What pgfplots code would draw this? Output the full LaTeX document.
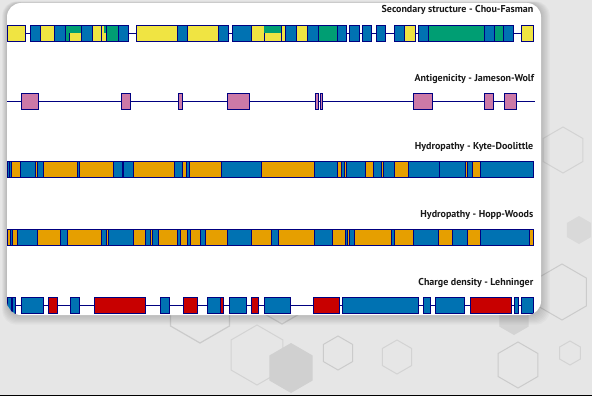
\documentclass[border=0pt]{standalone}
\usepackage{pgfplots}
\pgfplotsset{compat=1.18}
\usepackage{pgfplotstable}
\usepackage{fontspec}
\setmainfont{PT Sans}
\definecolor{cY}{HTML}{F0E442}
\definecolor{cB}{HTML}{0072B2}
\definecolor{cG}{HTML}{009E73}
\definecolor{cO}{HTML}{E69F00}
\definecolor{cR}{HTML}{C80000}
\definecolor{cP}{HTML}{CC79A7}
\definecolor{nv}{HTML}{000080}
\definecolor{bg}{HTML}{E6E6E6}
\definecolor{hexl}{HTML}{CBCBCB}

% columns: x1 x2 (residue span, px) y1 y2 (box top/bottom) s (class)
\pgfplotstableread{
x1 x2 y1 y2 s
7 25.7 25 41.5 sY
30.3 40.3 25 41.5 sB
40.3 54.3 25 41.5 sY
54.3 65.7 25 41.5 sB
65.7 69 25 41.5 sG
69 81.7 25 41.5 sY
69 81.7 25.5 33.25 sGf
81.7 92.3 25 41.5 sB
92.3 101.7 25 41.5 sY
101.7 106.7 25 41.5 sY
103.5 106.7 25.5 33.25 sGf
106.7 118.3 25 41.5 sG
118.3 128.3 25 41.5 sB
136.3 177.7 25 41.5 sY
177.7 187.3 25 41.5 sB
187.3 218.3 25 41.5 sY
218.3 228.3 25 41.5 sB
232.3 251.7 25 41.5 sB
251.7 264.3 25 41.5 sY
264.3 281.7 25 41.5 sY
264.3 281.7 25.5 33.25 sGf
281.7 285.7 25 41.5 sY
285.7 296 25 41.5 sB
296 307.7 25 41.5 sY
307.7 318.3 25 41.5 sB
318.3 337.7 25 41.5 sG
337.7 346.7 25 41.5 sB
349.3 359 25 41.5 sB
362.3 371.7 25 41.5 sB
376 385.7 25 41.5 sB
394.3 404 25 41.5 sB
404 415.7 25 41.5 sY
418.3 428.3 25 41.5 sB
428.3 484.3 25 41.5 sG
484.3 494 25 41.5 sB
494 503.3 25 41.5 sG
503.3 513.3 25 41.5 sB
521.7 533.3 25 41.5 sY
}\ssdata

\pgfplotstableread{
x1 x2 y1 y2 s
21.3 38.7 93 109.3 sP
121.3 130.3 93 109.3 sP
178.3 182.7 93 109.3 sP
227.3 249.3 93 109.3 sP
315.3 318.3 93 109.3 sP
320 322.7 93 109.3 sP
413.3 432.7 93 109.3 sP
484.3 493.7 93 109.3 sP
504 516.7 93 109.3 sP
}\agdata

\pgfplotstableread{
x1 x2 y1 y2 s
7 9.3 161 177.7 sB
9.3 11.7 161 177.7 sB
11.7 20.7 161 177.7 sO
20.7 35.7 161 177.7 sB
35.7 37 161 177.7 sO
37 43.7 161 177.7 sB
43.7 77.3 161 177.7 sO
77.3 79.3 161 177.7 sB
79.3 113.7 161 177.7 sO
113.7 122 161 177.7 sB
122 123.3 161 177.7 sO
123.3 133.3 161 177.7 sB
133.3 174.7 161 177.7 sO
174.7 182.7 161 177.7 sB
182.7 186.7 161 177.7 sO
186.7 189.3 161 177.7 sB
189.3 221.7 161 177.7 sO
221.7 261.3 161 177.7 sB
261.3 314.3 161 177.7 sO
314.3 337.7 161 177.7 sB
337.7 341 161 177.7 sO
341 344.3 161 177.7 sB
344.3 346.7 161 177.7 sO
346.7 365 161 177.7 sB
365 373.3 161 177.7 sO
373.3 381.7 161 177.7 sB
381.7 383.3 161 177.7 sO
383.3 394.3 161 177.7 sB
394.3 408.3 161 177.7 sO
408.3 439 161 177.7 sB
439 465.7 161 177.7 sB
465.7 467 161 177.7 sO
467 472.7 161 177.7 sB
472.7 480 161 177.7 sO
480 533.3 161 177.7 sB
}\kddata

\pgfplotstableread{
x1 x2 y1 y2 s
7 10 229 245.7 sO
10 12.7 229 245.7 sB
12.7 17.7 229 245.7 sO
17.7 37.7 229 245.7 sB
37.7 60.3 229 245.7 sO
60.3 67.7 229 245.7 sB
67.7 101.7 229 245.7 sO
101.7 106.7 229 245.7 sB
106.7 108.3 229 245.7 sO
108.3 133.3 229 245.7 sB
133.3 145.7 229 245.7 sO
145.7 150.3 229 245.7 sB
150.3 152.7 229 245.7 sO
152.7 158 229 245.7 sB
158 177.7 229 245.7 sO
177.7 180.3 229 245.7 sB
180.3 187.7 229 245.7 sO
187.7 190 229 245.7 sB
190 200 229 245.7 sO
200 205 229 245.7 sB
205 227.3 229 245.7 sO
227.3 251.7 229 245.7 sB
251.7 271 229 245.7 sO
271 278.7 229 245.7 sB
278.7 314.3 229 245.7 sO
314.3 332.7 229 245.7 sB
332.7 345 229 245.7 sO
345 347.3 229 245.7 sB
347.3 349.3 229 245.7 sO
349.3 354.3 229 245.7 sB
354.3 391 229 245.7 sO
391 394.3 229 245.7 sB
394.3 413.3 229 245.7 sO
413.3 438.3 229 245.7 sB
438.3 452.7 229 245.7 sO
452.7 467.7 229 245.7 sB
467.7 480 229 245.7 sO
480 529.3 229 245.7 sB
529.3 533.3 229 245.7 sO
}\hwdata

\pgfplotstableread{
x1 x2 y1 y2 s
7 11.7 297 313.5 sB
12.7 15.3 297 313.5 sB
21.3 43.7 297 313.5 sB
48.7 57.7 297 313.5 sR
70.3 79.3 297 313.5 sB
94.7 145.3 297 313.5 sR
160.3 169.7 297 313.5 sB
183.3 197.7 297 313.5 sR
207.3 220 297 313.5 sB
220 223.7 297 313.5 sR
229.3 246.7 297 313.5 sB
251.3 258.7 297 313.5 sR
264.3 290.7 297 313.5 sB
313.3 339.3 297 313.5 sR
342.3 418.3 297 313.5 sB
423.3 430.3 297 313.5 sB
435.3 464.3 297 313.5 sB
470.3 511.3 297 313.5 sR
514.3 518.7 297 313.5 sB
521.3 533.3 297 313.5 sB
}\chdata

\pgfplotsset{
  seg/.style={draw=nv, line width=0.9pt},
  sY/.style={seg, fill=cY}, sB/.style={seg, fill=cB}, sG/.style={seg, fill=cG},
  sO/.style={seg, fill=cO}, sR/.style={seg, fill=cR}, sP/.style={seg, fill=cP},
  sGf/.style={draw=none, fill=cG},
  conn/.style={draw=nv, line width=0.9pt, mark=none},
}

\newcommand\drawsegs[1]{%
  \pgfplotstablegetrowsof{#1}%
  \pgfmathtruncatemacro\nr{\pgfplotsretval-1}%
  \pgfplotsforeachungrouped \i in {0,...,\nr}{%
    \pgfplotstablegetelem{\i}{x1}\of{#1}\let\xa\pgfplotsretval
    \pgfplotstablegetelem{\i}{x2}\of{#1}\let\xb\pgfplotsretval
    \pgfplotstablegetelem{\i}{y1}\of{#1}\let\ya\pgfplotsretval
    \pgfplotstablegetelem{\i}{y2}\of{#1}\let\yb\pgfplotsretval
    \pgfplotstablegetelem{\i}{s}\of{#1}\let\cc\pgfplotsretval
    \edef\cmd{\noexpand\addplot[\cc] coordinates {(\xa,\ya) (\xb,\ya) (\xb,\yb) (\xa,\yb)} -- cycle;}%
    \cmd
  }%
}

\newcommand\hexo[4]{\draw[#4] (#1pt,-#2pt) +(30:#3pt) -- +(90:#3pt) -- +(150:#3pt) -- +(210:#3pt) -- +(270:#3pt) -- +(330:#3pt) -- cycle;}

\begin{document}
\begin{tikzpicture}[x=1pt,y=1pt]
\fill[bg] (0,0) rectangle (592,-396);
% background hexagons
\hexo{200}{309}{34}{hexl, line width=1.2pt}
\hexo{282}{290}{34}{hexl, line width=1.2pt}
\hexo{257}{355}{30}{hexl!70!bg, line width=1pt}
\hexo{291}{368}{25}{fill=hexl!80!bg, draw=none}
\hexo{338}{353}{17}{hexl, line width=1pt}
\hexo{397}{357}{17}{hexl!70!bg, line width=1pt}
\hexo{518}{365}{23}{hexl, line width=1pt}
\hexo{514}{318}{17}{fill=hexl!70!bg, draw=none}
\hexo{562}{292}{28}{hexl, line width=1pt}
\hexo{570}{353}{12}{hexl!70!bg, line width=1pt}
\hexo{579}{230}{14}{fill=hexl!50!bg, draw=none}
\hexo{563}{150}{23}{hexl!70!bg, line width=1pt}
% shadow
\foreach \i in {1,...,8}{
  \fill[black, opacity=0.022, rounded corners=14pt] (7-\i*0.6,-3+\i*0.2) rectangle (541+\i*1.1,-315-\i*1.2);
}
% panel
\fill[white, rounded corners=14pt] (7,-3) rectangle (541,-315);
\fill[black] (0,-395) rectangle (592,-396);

\begin{scope}
\clip[rounded corners=14pt] (7,-3) rectangle (541,-315);
\begin{axis}[at={(0pt,-396pt)}, anchor=south west, scale only axis,
    width=592pt, height=396pt, xmin=0, xmax=592, ymin=0, ymax=396,
    y dir=reverse, axis lines=none, ticks=none, clip=false]
\addplot[conn] coordinates {(7,33.25) (533.3,33.25)};
\drawsegs{\ssdata}
\addplot[conn] coordinates {(7,101.2) (535,101.2)};
\drawsegs{\agdata}
\drawsegs{\kddata}
\drawsegs{\hwdata}
\addplot[conn] coordinates {(7,305.2) (533.3,305.2)};
\drawsegs{\chdata}
\end{axis}
\end{scope}

\begin{scope}[every node/.style={anchor=base east, inner sep=0pt, text=black!90, font=\fontsize{10}{12}\selectfont\bfseries}]
\node at (533.5,-13) {Secondary structure - Chou-Fasman};
\node at (534.3,-81.3) {Antigenicity - Jameson-Wolf};
\node at (533.5,-149) {Hydropathy - Kyte-Doolittle};
\node at (533.5,-217) {Hydropathy - Hopp-Woods};
\node at (533.5,-285.6) {Charge density - Lehninger};
\end{scope}
\end{tikzpicture}
\end{document}
